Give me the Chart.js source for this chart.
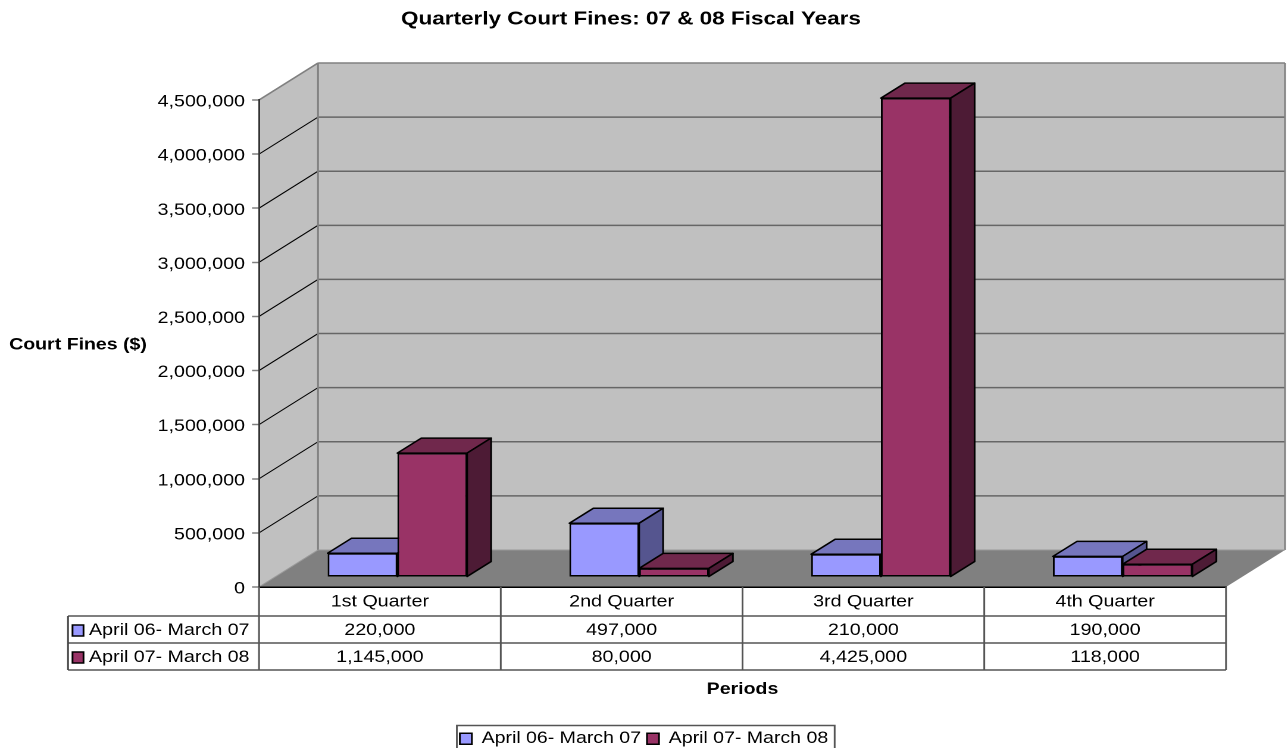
<!DOCTYPE html>
<html>
<head>
<meta charset="utf-8">
<style>
  html, body { margin: 0; padding: 0; background: #fff; overflow: hidden; }
  #chart { display: block; transform-origin: 0 0; }
</style>
</head>
<body>
<canvas id="chart" width="1082" height="748"></canvas>
<script src="https://cdn.jsdelivr.net/npm/chart.js@4/dist/chart.umd.min.js"></script>
<script>
const categories = ["1st Quarter", "2nd Quarter", "3rd Quarter", "4th Quarter"];
const series1Name = "April 06- March 07";
const series2Name = "April 07- March 08";
const series1Values = [220000, 497000, 210000, 190000];
const series2Values = [1145000, 80000, 4425000, 118000];

// the original picture is stretched sideways, so the canvas is too
const stretch = 1288 / 1082;
const px = (x) => x / stretch;

const fontFamily = "'Liberation Sans', Arial, sans-serif";
const wallDepth = { x: px(59), y: -37 };
const barDepth = { x: px(24), y: -15 };
const barShift = { x: px(17.5), y: -10 };
const rowLines = [616, 643, 670];
const faces = [
  { top: "#7676BD", side: "#55558F" },
  { top: "#70284C", side: "#4D1B35" },
];

document.getElementById("chart").style.transform = "scaleX(" + stretch + ")";

function poly(ctx, points, fill, stroke, width) {
  ctx.beginPath();
  points.forEach((p, i) => (i ? ctx.lineTo(p[0], p[1]) : ctx.moveTo(p[0], p[1])));
  ctx.closePath();
  if (fill) {
    ctx.fillStyle = fill;
    ctx.fill();
  }
  if (stroke) {
    ctx.strokeStyle = stroke;
    ctx.lineWidth = width;
    ctx.lineJoin = "round";
    ctx.stroke();
  }
}

function line(ctx, x1, y1, x2, y2, color, width) {
  ctx.beginPath();
  ctx.moveTo(x1, y1);
  ctx.lineTo(x2, y2);
  ctx.strokeStyle = color;
  ctx.lineWidth = width;
  ctx.stroke();
}

// top and side of each box of a dataset, then its fronts from the library
function drawBoxes(chart, index) {
  const ctx = chart.ctx;
  const meta = chart.getDatasetMeta(index);
  const face = faces[index];
  ctx.save();
  ctx.translate(barShift.x, barShift.y);
  meta.data.forEach((bar) => {
    const p = bar.getProps(["x", "y", "base", "width"], true);
    const l = p.x - p.width / 2;
    const r = p.x + p.width / 2;
    const dx = barDepth.x;
    const dy = barDepth.y;
    poly(ctx, [[l, p.y], [l + dx, p.y + dy], [r + dx, p.y + dy], [r, p.y]], face.top, "#000", 1.5);
    poly(ctx, [[r, p.y], [r + dx, p.y + dy], [r + dx, p.base + dy], [r, p.base]], face.side, "#000", 1.5);
  });
  meta.controller.draw();
  ctx.restore();
}

const box3d = {
  id: "box3d",
  afterLayout(chart) {
    // title sits a little left of the page centre
    chart.titleBlock.left -= px(13);
    chart.titleBlock.right -= px(13);
  },
  beforeDraw(chart) {
    const ctx = chart.ctx;
    const { left, right, top, bottom } = chart.chartArea;
    const dx = wallDepth.x;
    const dy = wallDepth.y;
    ctx.save();
    poly(ctx, [[left, top], [left + dx, top + dy], [left + dx, bottom + dy], [left, bottom]], "#C0C0C0");
    poly(ctx, [[left + dx, top + dy], [right + dx, top + dy], [right + dx, bottom + dy], [left + dx, bottom + dy]], "#C0C0C0");
    poly(ctx, [[left, bottom], [left + dx, bottom + dy], [right + dx, bottom + dy], [right, bottom]], "#808080");

    chart.scales.y.ticks.forEach((tick) => {
      const y = chart.scales.y.getPixelForValue(tick.value);
      if (tick.value === 0) return;
      const edge = y === top;
      line(ctx, left, y, left + dx, y + dy, edge ? "#808080" : "#000", edge ? 1.5 : 1);
      line(ctx, left + dx, y + dy, right + dx, y + dy, edge ? "#808080" : "#666", 1.5);
    });
    line(ctx, left + dx, top + dy, left + dx, bottom + dy, "#808080", 1.5);
    line(ctx, right + dx, top + dy, right + dx, bottom + dy, "#808080", 1.5);
    line(ctx, left, bottom, left + dx, bottom + dy, "#999", 1);
    line(ctx, left + dx, bottom + dy, right + dx, bottom + dy, "#999", 1);
    ctx.restore();
  },
  // the library paints the last dataset first, but here the second series has
  // to land on top of the first, so the normal pass is skipped
  beforeDatasetDraw() {
    return false;
  },
  beforeDatasetsDraw(chart) {
    drawBoxes(chart, 0);
    drawBoxes(chart, 1);
  },
  afterDraw(chart) {
    const ctx = chart.ctx;
    const { left, right, bottom } = chart.chartArea;
    const x = chart.scales.x;
    const headerLeft = px(68);
    const catWidth = (right - left) / categories.length;
    const rows = [
      { name: series1Name, values: series1Values, color: chart.data.datasets[0].backgroundColor },
      { name: series2Name, values: series2Values, color: chart.data.datasets[1].backgroundColor },
    ];
    ctx.save();

    // data table under the plot
    rowLines.forEach((y) => line(ctx, headerLeft, y, right, y, "#555", 1.5));
    line(ctx, headerLeft, rowLines[0], headerLeft, rowLines[2], "#444", 1.5);
    for (let i = 0; i <= categories.length; i++) {
      line(ctx, left + i * catWidth, bottom, left + i * catWidth, rowLines[2], "#555", 1.5);
    }
    ctx.font = "16.5px " + fontFamily;
    ctx.fillStyle = "#000";
    ctx.textBaseline = "middle";
    rows.forEach((row, r) => {
      const mid = (rowLines[r] + rowLines[r + 1]) / 2 + 1;
      ctx.textAlign = "center";
      row.values.forEach((v, i) => {
        ctx.fillText(v.toLocaleString("en-US"), x.getPixelForTick(i), mid);
      });
      ctx.fillStyle = row.color;
      ctx.strokeStyle = "#000";
      ctx.lineWidth = 1.5;
      ctx.fillRect(px(72.5), mid - 5.5, px(11), 11);
      ctx.strokeRect(px(72.5), mid - 5.5, px(11), 11);
      ctx.fillStyle = "#000";
      ctx.textAlign = "left";
      ctx.fillText(row.name, px(89), mid);
    });

    // horizontal y axis title
    ctx.font = "bold 16.4px " + fontFamily;
    ctx.textAlign = "center";
    ctx.fillText("Court Fines ($)", px(78), 345);

    // frame round the legend, runs off the bottom of the page
    const boxes = chart.legend.legendHitBoxes;
    const first = boxes[0];
    const last = boxes[boxes.length - 1];
    ctx.strokeStyle = "#555";
    ctx.lineWidth = 1.5;
    ctx.strokeRect(first.left - px(3), first.top - 5, last.left + last.width - first.left + px(9.5), 40);
    ctx.restore();
  },
};

new Chart(document.getElementById("chart"), {
  type: "bar",
  data: {
    labels: categories,
    datasets: [
      {
        label: series1Name,
        data: series1Values,
        backgroundColor: "#9999FF",
        borderColor: "#000",
        borderWidth: 1.5,
        borderSkipped: false,
      },
      {
        label: series2Name,
        data: series2Values,
        backgroundColor: "#993366",
        borderColor: "#000",
        borderWidth: 1.5,
        borderSkipped: false,
      },
    ],
  },
  options: {
    responsive: false,
    animation: false,
    devicePixelRatio: 2,
    categoryPercentage: 0.577,
    barPercentage: 1,
    layout: { padding: { bottom: -8.9 } },
    font: { family: fontFamily },
    plugins: {
      tooltip: { enabled: false },
      title: {
        display: true,
        text: "Quarterly Court Fines: 07 & 08 Fiscal Years",
        color: "#000",
        font: { family: fontFamily, size: 18.9, weight: "bold", lineHeight: 1.2 },
        padding: { top: 8, bottom: 69.3 },
      },
      legend: {
        position: "bottom",
        labels: {
          color: "#000",
          boxWidth: px(12),
          boxHeight: 11,
          padding: 5,
          font: { family: fontFamily, size: 16.4 },
        },
      },
    },
    scales: {
      x: {
        offset: true,
        grid: { display: false, drawTicks: false },
        border: { display: true, color: "#000", width: 1.5 },
        ticks: { color: "#000", padding: 5, font: { family: fontFamily, size: 16.5 } },
        title: {
          display: true,
          text: "Periods",
          color: "#000",
          font: { family: fontFamily, size: 16.4, weight: "bold" },
          padding: { bottom: 26 },
        },
        afterFit(scale) {
          scale.height = 169.9 - scale.chart.legend.height;
        },
      },
      y: {
        min: 0,
        max: 4500000,
        ticks: {
          stepSize: 500000,
          color: "#000",
          padding: px(7),
          labelOffset: 2,
          font: { family: fontFamily, size: 16.5 },
          callback: (v) => v.toLocaleString("en-US"),
        },
        grid: { drawOnChartArea: false, tickColor: "#808080", tickLength: px(7), tickWidth: 1.5 },
        border: { display: true, color: "#333", width: 1.5 },
        afterFit(scale) {
          scale.width = px(259);
        },
      },
      // empty axis that keeps the room right of the plot for the wall depth
      edge: {
        position: "right",
        ticks: { display: false },
        grid: { display: false },
        border: { display: false },
        afterFit(scale) {
          scale.width = px(62);
        },
      },
    },
  },
  plugins: [box3d],
});
</script>
</body>
</html>
